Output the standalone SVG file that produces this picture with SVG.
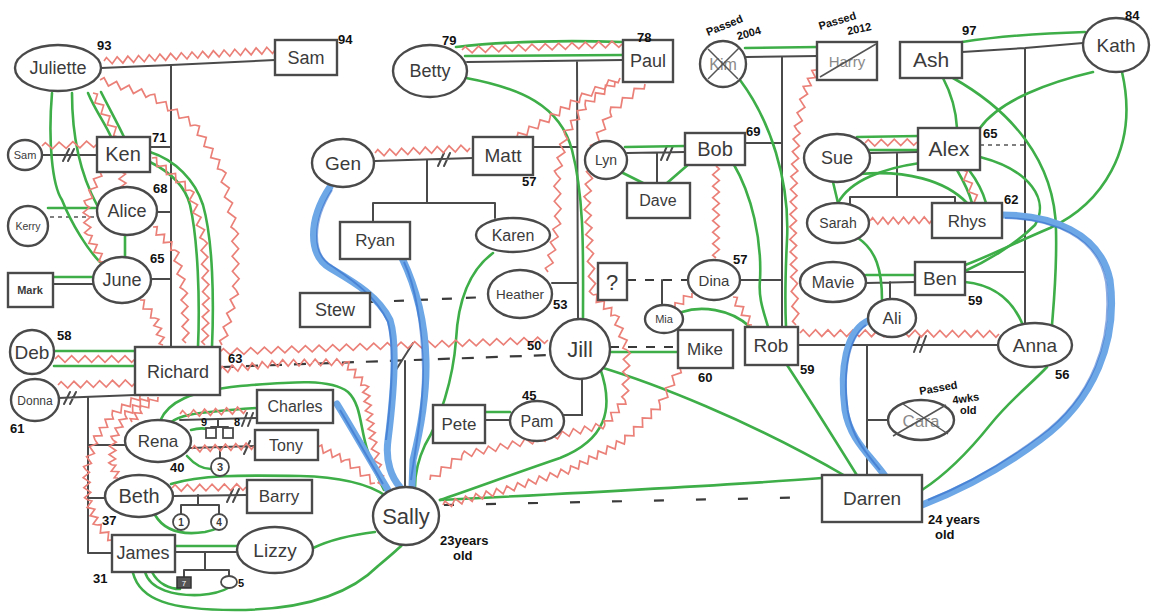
<svg xmlns="http://www.w3.org/2000/svg" width="1151" height="614" viewBox="0 0 1151 614">
<style>
 .k{fill:none;stroke:#4a4a4a;stroke-width:2;stroke-linecap:round}
 .kd{fill:none;stroke:#3a3a3a;stroke-width:2.2;stroke-dasharray:12 12}
 .kf{fill:none;stroke:#555;stroke-width:1.4;stroke-dasharray:4 4}
 .g{fill:none;stroke:#3dae48;stroke-width:2.6;stroke-linecap:round}
 .zz{fill:none;stroke:#ea8078;stroke-width:1.7;stroke-linejoin:miter}
 .b{fill:none;stroke:#6da7e6;stroke-width:7;stroke-linecap:round}
 .bi{fill:none;stroke:#2c66c8;stroke-width:2;opacity:.55}
 .n{fill:#fff;stroke:#4a4a4a;stroke-width:2.4}
 .t{font-family:"Liberation Sans",Arial,sans-serif;fill:#3b3b3b;text-anchor:middle}
 .d{fill:#8a8a8a}
 .a{font-family:"Liberation Sans",Arial,sans-serif;font-weight:bold;font-size:13px;fill:#111}
 .s{font-family:"Liberation Sans",Arial,sans-serif;font-weight:bold;font-size:11px;fill:#111}
 .x{stroke:#555;stroke-width:1.5;fill:none}
</style>
<defs>
 <!-- zigzag strokes of fixed length, laid along a chunk by matrix transforms -->
 <path id="z20" vector-effect="non-scaling-stroke" d="M0,0l2.5,-3.3l5,6.6l5,-6.6l5,6.6l2.5,-3.3"/>
 <path id="z30" vector-effect="non-scaling-stroke" d="M0,0l2.5,-3.3l5,6.6l5,-6.6l5,6.6l5,-6.6l5,6.6l2.5,-3.3"/>
 <path id="z40" vector-effect="non-scaling-stroke" d="M0,0l3.333,-3.3l6.667,6.6l6.667,-6.6l6.667,6.6l6.667,-6.6l6.667,6.6l3.333,-3.3"/>
 <path id="z50" vector-effect="non-scaling-stroke" d="M0,0l3.125,-3.3l6.25,6.6l6.25,-6.6l6.25,6.6l6.25,-6.6l6.25,6.6l6.25,-6.6l6.25,6.6l3.125,-3.3"/>
 <path id="z100" vector-effect="non-scaling-stroke" d="M0,0l3.125,-3.3l6.25,6.6l6.25,-6.6l6.25,6.6l6.25,-6.6l6.25,6.6l6.25,-6.6l6.25,6.6l6.25,-6.6l6.25,6.6l6.25,-6.6l6.25,6.6l6.25,-6.6l6.25,6.6l6.25,-6.6l6.25,6.6l3.125,-3.3"/>
 <g id="z60"><use href="#z30"/><use href="#z30" x="30"/></g>
 <g id="z80"><use href="#z40"/><use href="#z40" x="40"/></g>
 <g id="z150"><use href="#z100"/><use href="#z50" x="100"/></g>
 <g id="z200"><use href="#z100"/><use href="#z100" x="100"/></g>
 <g id="z300"><use href="#z100"/><use href="#z100" x="100"/><use href="#z100" x="200"/></g>
</defs>
<rect width="1151" height="614" fill="#fff"/>

<g id="connectors">
 <!-- family lines -->
 <g id="family-lines">
  <path class="k" d="M101,68 L171,65 L275,60"/>
  <path class="k" d="M171,65 L171,347"/>
  <path class="k" d="M150,147 L171,147 M157,212 L171,212 M151,279 L171,279"/>
  <path class="k" d="M41,155 L97,155 M63,161 L69,149 M68,161 L74,149"/>
  <path class="kf" d="M50,217 L97,217"/>
  <path class="k" d="M53,284 L93,284"/>
  <path class="k" d="M58,398 L135,395 M64,404 L70,392 M70,404 L76,392"/>
  <path class="k" d="M88,397 L88,553 M88,445 L125,445 M88,498 L105,498 M88,553 L112,553"/>
  <path class="k" d="M180,420 L257,418 M242,426 L247,413 M248,426 L253,413"/>
  <path class="k" d="M218,419 L218,427 M211,427 L228,427"/>
  <path class="k" d="M190,448 L255,446 M244,454 L250,441 M220,448 L220,458"/>
  <path class="k" d="M173,496 L247,495 M227,502 L233,489 M233,502 L239,489"/>
  <path class="k" d="M198,495 L198,505 M181,505 L219,505 M181,505 L181,514 M219,505 L219,514"/>
  <path class="k" d="M175,552 L237,552 M205,552 L205,570 M184,570 L229,570 M184,570 L184,577 M229,570 L229,576"/>
  <path class="kd" d="M222,367 L550,355"/>
  <path class="k" d="M405,361 L405,487 M394,373 L413,343"/>
  <path class="kd" style="stroke-dasharray:10 14" d="M370,302 L488,297"/>
  <path class="k" d="M375,161 L473,158 M438,166 L444,153 M444,166 L450,153"/>
  <path class="k" d="M427,160 L427,203 M373,203 L495,203 M373,203 L373,222 M495,203 L495,218"/>
  <path class="k" d="M467,62 L623,60 M577,61 L578,319 M533,147 L577,147 M552,283 L577,283"/>
  <path class="kd" style="stroke-dasharray:9 9" d="M627,280 L688,280"/>
  <path class="k" d="M662,280 L662,305"/>
  <path class="kd" style="stroke-dasharray:9 9" d="M610,347 L678,347"/>
  <path class="k" d="M582,379 L582,415 L563,415 M485,420 L510,420"/>
  <path class="k" d="M746,57 L818,56 M782,57 L782,327 M745,143 L782,143 M740,280 L782,280"/>
  <path class="k" d="M627,153 L685,152 M661,160 L667,146 M667,160 L673,146 M657,153 L657,183"/>
  <path class="k" d="M798,345 L998,345 M914,352 L920,336 M920,352 L926,336"/>
  <path class="k" d="M867,345 L867,475 M867,420 L888,420"/>
  <path class="k" d="M962,52 L1025,48 L1083,43 M1025,48 L1025,325 M965,272 L1025,272"/>
  <path class="kf" d="M980,145 L1025,145"/>
  <path class="k" d="M870,153 L918,152 M897,153 L897,197 M850,197 L955,197 M850,197 L850,204 M955,197 L955,204"/>
  <path class="k" d="M866,283 L915,282 M890,282 L890,300"/>
  <path class="kd" style="stroke-dasharray:10 32" d="M444,505 L822,497"/>
 </g>

 <!-- close bonds -->
 <g id="close-bonds">
  <path class="g" d="M52,93 C48,140 52,185 62,200 C72,225 88,250 100,262"/>
  <path class="g" d="M72,93 C72,130 78,170 97,205"/>
  <path class="g" d="M88,93 C95,110 106,125 111,137"/>
  <path class="g" d="M101,92 C109,108 117,122 124,137"/>
  <path class="g" d="M150,152 C175,160 195,180 203,205 C213,240 214,300 212,347"/>
  <path class="g" d="M150,162 C170,172 185,185 190,205 C198,240 200,300 198,347"/>
  <path class="g" d="M48,208 L97,208 M125,235 L125,257 M53,277 L94,277"/>
  <path class="g" d="M54,351 L135,351 M54,366 L135,366"/>
  <path class="g" d="M160,421 C168,402 190,391 240,386 C290,382 330,378 348,392 C362,405 360,430 368,452 C374,470 380,482 384,490"/>
  <path class="g" d="M170,423 C178,416 186,413 257,408"/>
  <path class="g" d="M191,430 C198,428 206,428 212,430"/>
  <path class="g" d="M187,456 C195,465 203,469 211,469"/>
  <path class="g" d="M171,484 C200,475 240,475 300,476 C345,477 370,485 386,496"/>
  <path class="g" d="M155,515 C165,532 185,535 205,532 C215,530 222,527 226,522"/>
  <path class="g" d="M175,546 L237,546"/>
  <path class="g" d="M145,572 C150,590 175,596 200,595 C215,594 225,590 230,587"/>
  <path class="g" d="M152,572 C158,584 170,589 180,589"/>
  <path class="g" d="M133,573 C140,600 170,610 235,610 C310,610 352,592 378,566 C390,556 397,550 402,545"/>
  <path class="g" d="M313,548 C330,540 350,535 375,532"/>
  <path class="g" d="M456,47 C500,42 560,40 623,42 M465,56 L623,55"/>
  <path class="g" d="M466,78 C520,88 560,105 572,150 C585,200 583,260 583,318"/>
  <path class="g" d="M493,253 C470,270 458,300 456,340 C453,380 440,420 425,445 C418,460 415,475 415,487"/>
  <path class="g" d="M600,368 C615,410 605,440 560,458 C510,475 470,490 440,500"/>
  <path class="g" d="M608,352 L678,352"/>
  <path class="g" d="M600,367 C650,382 750,420 847,477"/>
  <path class="g" d="M440,500 C600,492 720,486 822,478"/>
  <path class="g" d="M483,412 L510,412"/>
  <path class="g" d="M745,48 L818,47"/>
  <path class="g" d="M740,80 C770,120 790,180 787,240 C785,280 785,305 786,327"/>
  <path class="g" d="M733,163 C752,195 762,240 760,280 C758,300 765,315 768,327"/>
  <path class="g" d="M625,147 L685,146 M619,171 L643,183 M690,163 L667,183"/>
  <path class="g" d="M682,312 C700,306 730,308 750,327"/>
  <path class="g" d="M787,365 C810,400 835,440 858,477"/>
  <path class="g" d="M962,42 C1000,36 1050,33 1085,32"/>
  <path class="g" d="M943,78 C952,95 956,110 957,128"/>
  <path class="g" d="M953,78 C1010,110 1055,160 1056,230 C1057,270 1054,300 1052,325"/>
  <path class="g" d="M1093,72 C1050,82 1000,100 980,128"/>
  <path class="g" d="M1122,72 C1140,150 1100,205 1050,228 C1010,245 985,258 965,265"/>
  <path class="g" d="M980,157 C1030,170 1050,200 1035,225 C1015,245 985,262 965,271"/>
  <path class="g" d="M965,282 C995,285 1012,300 1022,323"/>
  <path class="g" d="M1047,367 C1030,385 1010,400 990,425 C970,450 945,475 922,490"/>
  <path class="g" d="M857,137 L918,136 M868,150 L918,150"/>
  <path class="g" d="M833,182 L838,203"/>
  <path class="g" d="M838,203 C850,180 885,168 920,163"/>
  <path class="g" d="M860,174 C905,170 945,180 967,203"/>
  <path class="g" d="M957,170 C964,182 969,192 972,203 M969,170 C978,182 983,192 986,203"/>
  <path class="g" d="M858,238 C876,250 882,270 882,300"/>
  <path class="g" d="M866,275 L915,275"/>
 </g>

 <!-- conflict -->
 <g id="conflict" class="zz">
  <use href="#z200" transform="matrix(.855,-.055,.064,.998,104,61)"/>
  <use href="#z50" transform="matrix(1,.3,-.287,.958,100,80)"/>
  <use href="#z50" transform="matrix(.9,.6,-.555,.832,150,95)"/>
  <use href="#z50" transform="matrix(.54,.9,-.857,.514,195,125)"/>
  <use href="#z50" transform="matrix(.26,1.2,-.977,.212,222,170)"/>
  <use href="#z50" transform="matrix(.02,1.2,-1,.017,235,230)"/>
  <use href="#z50" transform="matrix(-.28,1.1,-.968,-.246,236,290)"/>
  <use href="#z50" transform="matrix(.5,.88,-.87,.494,93,93)"/>
  <use href="#z50" transform="matrix(1.1,-.04,.036,1,42,146)"/>
  <use href="#z20" transform="matrix(.05,.9,-1,.056,122,172)"/>
  <use href="#z30" transform="matrix(-.467,1.1,-.922,-.391,100,172)"/>
  <use href="#z30" transform="matrix(.067,1,-.997,.066,86,205)"/>
  <use href="#z30" transform="matrix(.5,.9,-.874,.485,88,235)"/>
  <use href="#z30" transform="matrix(.733,.767,-.723,.692,153,227)"/>
  <use href="#z40" transform="matrix(.225,1,-.976,.22,175,250)"/>
  <use href="#z50" transform="matrix(.04,1.06,-1,.038,184,290)"/>
  <use href="#z50" transform="matrix(.76,.64,-.644,.765,152,158)"/>
  <use href="#z50" transform="matrix(.28,1,-.963,.27,190,190)"/>
  <use href="#z50" transform="matrix(.04,1.1,-1,.036,204,240)"/>
  <use href="#z50" transform="matrix(-.02,1,-1,-.02,206,295)"/>
  <use href="#z20" transform="matrix(.75,.9,-.769,.641,140,300)"/>
  <use href="#z30" transform="matrix(.267,.9,-.957,.284,155,318)"/>
  <use href="#z80" transform="translate(55,359)"/>
  <use href="#z80" transform="matrix(.963,-.025,.026,1,58,385)"/>
  <use href="#z300" transform="matrix(1.093,-.04,0,1,220,352)"/>
  <use href="#z60" transform="matrix(1,-.117,.116,.993,220,370)"/>
  <use href="#z60" transform="matrix(1.083,-.017,.015,1,280,363)"/>
  <use href="#z30" transform="matrix(.667,.767,-.754,.656,345,362)"/>
  <use href="#z60" transform="matrix(.133,.917,-.989,.144,365,385)"/>
  <use href="#z50" transform="matrix(.18,.9,-.98,.196,373,440)"/>
  <use href="#z30" transform="matrix(.9,.433,-.433,.9,318,447)"/>
  <use href="#z40" transform="matrix(.75,.575,-.608,.794,345,460)"/>
  <use href="#z30" transform="matrix(-.933,.633,-.562,-.828,140,396)"/>
  <use href="#z30" transform="matrix(-.567,.833,-.828,-.563,112,415)"/>
  <use href="#z30" transform="matrix(-.3,1,-.958,-.288,95,440)"/>
  <use href="#z30" transform="matrix(.067,1,-1,.067,86,470)"/>
  <use href="#z30" transform="matrix(.3,.833,-.94,.338,88,500)"/>
  <use href="#z20" transform="matrix(.75,.75,-.707,.707,97,525)"/>
  <use href="#z30" transform="matrix(-.767,.6,-.616,-.788,148,397)"/>
  <use href="#z30" transform="matrix(-.4,.833,-.903,-.433,125,415)"/>
  <use href="#z30" transform="matrix(-.033,.833,-1,-.04,113,440)"/>
  <use href="#z20" transform="matrix(.3,.65,-.909,.42,112,465)"/>
  <use href="#z20" transform="matrix(-.9,.65,-.586,-.811,158,397)"/>
  <use href="#z20" transform="matrix(-.4,.6,-.833,-.556,140,410)"/>
  <use href="#z60" transform="matrix(1.1,-.067,.06,1,180,414)"/>
  <use href="#z60" transform="matrix(1.033,-.05,.048,1,192,449)"/>
  <use href="#z80" transform="matrix(.925,-.0125,.0135,1,172,488)"/>
  <use href="#z150" transform="matrix(1.067,-.04,.037,1,462,50)"/>
  <use href="#z100" transform="matrix(.95,-.05,.053,1,375,153)"/>
  <use href="#z40" transform="matrix(.825,-.475,.499,.866,517,137)"/>
  <use href="#z40" transform="matrix(.75,-.5,.554,.831,550,118)"/>
  <use href="#z40" transform="matrix(1,-.5,.447,.894,580,98)"/>
  <use href="#z40" transform="matrix(-.75,.575,-.608,-.794,615,82)"/>
  <use href="#z40" transform="matrix(-.5,.75,-.832,-.554,585,105)"/>
  <use href="#z40" transform="matrix(-.2,1,-.981,-.196,565,135)"/>
  <use href="#z40" transform="matrix(.025,1.125,-1,.022,557,175)"/>
  <use href="#z50" transform="matrix(-.2,1.04,-.982,-.189,558,220)"/>
  <use href="#z40" transform="matrix(-.875,.7,-.625,-.781,645,84)"/>
  <use href="#z40" transform="matrix(-.45,.95,-.905,-.429,610,112)"/>
  <use href="#z50" transform="matrix(-.1,1,-.996,-.1,592,150)"/>
  <use href="#z50" transform="matrix(.06,1,-1,.06,587,200)"/>
  <use href="#z40" transform="matrix(.075,1.125,-1,.067,590,250)"/>
  <use href="#z30" transform="matrix(.733,.667,-.673,.741,593,295)"/>
  <use href="#z40" transform="matrix(.3,.875,-.946,.324,615,315)"/>
  <use href="#z50" transform="matrix(-.04,1,-1,-.04,627,350)"/>
  <use href="#z30" transform="matrix(-.667,.833,-.781,-.625,625,400)"/>
  <use href="#z50" transform="matrix(-.9,.2,-.217,-.976,605,425)"/>
  <use href="#z50" transform="matrix(-1,.2,-.196,-.98,560,435)"/>
  <use href="#z50" transform="matrix(-.96,.2,-.204,-.98,510,445)"/>
  <use href="#z40" transform="matrix(-.8,.625,-.616,-.788,462,455)"/>
  <use href="#z40" transform="matrix(-.5,.925,-.879,-.475,680,368)"/>
  <use href="#z50" transform="matrix(-.7,.7,-.707,-.707,660,405)"/>
  <use href="#z60" transform="matrix(-.917,.5,-.479,-.879,625,440)"/>
  <use href="#z60" transform="matrix(-1.083,.333,-.294,-.956,570,470)"/>
  <use href="#z60" transform="matrix(-1.033,.25,-.235,-.972,505,490)"/>
  <use href="#z100" transform="matrix(0,.92,-1,0,716,166)"/>
  <use href="#z30" transform="matrix(.633,.933,-.828,.562,733,297)"/>
  <use href="#z20" transform="matrix(-.85,.7,-.636,-.773,692,293)"/>
  <use href="#z30" transform="matrix(-.433,.8,-.879,-.476,818,66)"/>
  <use href="#z40" transform="matrix(-.2,1,-.981,-.196,805,90)"/>
  <use href="#z50" transform="matrix(-.06,1,-1,-.06,797,130)"/>
  <use href="#z50" transform="matrix(-.02,1,-1,-.02,794,180)"/>
  <use href="#z50" transform="matrix(.02,1,-1,.02,793,230)"/>
  <use href="#z40" transform="matrix(.05,1.125,-1,.044,794,280)"/>
  <use href="#z200" transform="matrix(.995,.005,0,1,800,333)"/>
  <use href="#z50" transform="matrix(1.04,-.02,0,1,865,143)"/>
  <use href="#z60" transform="matrix(1.033,-.017,0,1,870,221)"/>
  <use href="#z40" transform="matrix(.375,.875,-.921,.395,963,170)"/>
 </g>

 <!-- cut-offs -->
 <g id="cutoffs">
  <path class="b" d="M330,187 C308,220 308,255 330,268 C350,280 378,295 390,320 C398,345 393,400 388,440 C385,462 392,478 400,487"/>
  <path class="b" d="M402,258 C415,285 425,320 426,360 C427,400 418,440 413,460 L412,487"/>
  <path class="b" d="M337,404 C350,425 370,460 388,490"/>
  <path class="b" d="M870,320 C845,330 840,370 845,410 C850,440 870,455 885,476"/>
  <path class="b" d="M1002,215 C1050,215 1100,232 1110,280 C1118,340 1095,400 1040,440 C1000,470 955,492 922,505"/>
  <path class="bi" d="M332,190 C312,222 312,255 332,266 C352,280 376,296 388,322 C395,350 391,400 386,440"/>
  <path class="bi" d="M404,262 C417,290 422,330 423,370 C423,410 416,445 411,480"/>
  <path class="bi" d="M340,410 C352,430 368,458 383,484"/>
  <path class="bi" d="M866,325 C846,340 843,380 848,412 C853,440 868,455 880,470"/>
  <path class="bi" d="M1005,218 C1052,219 1098,236 1106,282 C1113,340 1092,398 1040,436 C1000,466 958,488 928,500"/>
 </g>
</g>

<!-- left family -->
<g id="juliette"><ellipse class="n" cx="58" cy="68" rx="43" ry="23"/><text class="t" x="58" y="74" font-size="18">Juliette</text><text class="a" x="97" y="50">93</text></g>
<g id="sam"><rect class="n" x="275" y="40" width="62" height="35"/><text class="t" x="306" y="64" font-size="18">Sam</text><text class="a" x="338" y="44">94</text></g>
<g id="sam-small"><ellipse class="n" cx="25" cy="155" rx="17" ry="15"/><text class="t" x="25" y="159" font-size="11">Sam</text></g>
<g id="ken"><rect class="n" x="97" y="137" width="53" height="35"/><text class="t" x="123" y="161" font-size="20">Ken</text><text class="a" x="152" y="142">71</text></g>
<g id="alice"><ellipse class="n" cx="127" cy="211" rx="30" ry="24"/><text class="t" x="127" y="217" font-size="18">Alice</text><text class="a" x="153" y="193">68</text></g>
<g id="kerry"><ellipse class="n" cx="28" cy="226" rx="20" ry="20"/><text class="t" x="28" y="230" font-size="10.5">Kerry</text></g>
<g id="june"><ellipse class="n" cx="122" cy="280" rx="29" ry="23"/><text class="t" x="122" y="286" font-size="18">June</text><text class="a" x="150" y="263">65</text></g>
<g id="mark"><rect class="n" x="8" y="273" width="45" height="34"/><text class="t" x="30" y="294" font-size="11" font-weight="bold">Mark</text></g>
<g id="deb"><ellipse class="n" cx="32" cy="352" rx="22" ry="22"/><text class="t" x="32" y="359" font-size="19">Deb</text><text class="a" x="57" y="340">58</text></g>
<g id="donna"><ellipse class="n" cx="35" cy="400" rx="24" ry="21"/><text class="t" x="35" y="405" font-size="12">Donna</text><text class="a" x="10" y="433">61</text></g>
<g id="richard"><rect class="n" x="135" y="347" width="85" height="48"/><text class="t" x="178" y="378" font-size="18">Richard</text><text class="a" x="228" y="363">63</text></g>
<g id="charles"><rect class="n" x="257" y="390" width="76" height="33"/><text class="t" x="295" y="412" font-size="16">Charles</text></g>
<g id="tony"><rect class="n" x="255" y="430" width="63" height="30"/><text class="t" x="286" y="451" font-size="16">Tony</text></g>
<g id="rena"><ellipse class="n" cx="158" cy="441" rx="33" ry="21"/><text class="t" x="158" y="447" font-size="17">Rena</text><text class="a" x="170" y="472">40</text></g>
<g id="rena-kids"><rect class="n" x="206" y="428" width="10" height="10" style="stroke-width:1.8"/><rect class="n" x="223" y="428" width="10" height="10" style="stroke-width:1.8"/><text class="s" x="201" y="426" font-size="8">9</text><text class="s" x="234" y="426" font-size="8">8</text><circle class="n" cx="220" cy="467" r="9" style="stroke-width:1.8"/><text class="t" x="220" y="471" font-size="11" font-weight="bold">3</text></g>
<g id="beth"><ellipse class="n" cx="139" cy="496" rx="34" ry="21"/><text class="t" x="139" y="503" font-size="20">Beth</text><text class="a" x="102" y="525">37</text></g>
<g id="barry"><rect class="n" x="247" y="480" width="65" height="33"/><text class="t" x="279" y="502" font-size="17">Barry</text></g>
<g id="beth-kids"><circle class="n" cx="181" cy="522" r="8" style="stroke-width:1.8"/><text class="t" x="181" y="526" font-size="10" font-weight="bold">1</text><circle class="n" cx="219" cy="522" r="8" style="stroke-width:1.8"/><text class="t" x="219" y="526" font-size="10" font-weight="bold">4</text></g>
<g id="james"><rect class="n" x="112" y="535" width="63" height="37"/><text class="t" x="143" y="559" font-size="18">James</text><text class="a" x="93" y="583">31</text></g>
<g id="lizzy"><ellipse class="n" cx="275" cy="550" rx="38" ry="23"/><text class="t" x="275" y="557" font-size="19">Lizzy</text></g>
<g id="james-kids"><rect x="177" y="577" width="14" height="11" fill="#555" stroke="#333" stroke-width="1.5"/><text x="184" y="586" font-family="Liberation Sans,Arial,sans-serif" font-size="8" fill="#fff" text-anchor="middle">7</text><ellipse class="n" cx="229" cy="582" rx="8" ry="6" style="stroke-width:1.8"/><text class="s" x="238" y="587">5</text></g>
<g id="sally"><ellipse class="n" cx="406" cy="516" rx="33" ry="29"/><text class="t" x="406" y="524" font-size="22">Sally</text><text class="a" x="440" y="545" font-size="12">23years</text><text class="a" x="453" y="560" font-size="12">old</text></g>

<!-- middle family -->
<g id="betty"><ellipse class="n" cx="430" cy="71" rx="37" ry="26"/><text class="t" x="430" y="77" font-size="18">Betty</text><text class="a" x="442" y="45">79</text></g>
<g id="paul"><rect class="n" x="623" y="40" width="50" height="42"/><text class="t" x="648" y="67" font-size="18">Paul</text><text class="a" x="637" y="42">78</text></g>
<g id="gen"><ellipse class="n" cx="343" cy="163" rx="31" ry="24"/><text class="t" x="343" y="170" font-size="19">Gen</text></g>
<g id="matt"><rect class="n" x="473" y="137" width="60" height="38"/><text class="t" x="503" y="162" font-size="19">Matt</text><text class="a" x="522" y="186">57</text></g>
<g id="ryan"><rect class="n" x="340" y="222" width="70" height="37"/><text class="t" x="375" y="246" font-size="17">Ryan</text></g>
<g id="karen"><ellipse class="n" cx="513" cy="235" rx="37" ry="17"/><text class="t" x="513" y="241" font-size="16">Karen</text></g>
<g id="stew"><rect class="n" x="300" y="293" width="70" height="34"/><text class="t" x="335" y="316" font-size="18">Stew</text></g>
<g id="heather"><ellipse class="n" cx="520" cy="294" rx="32" ry="24"/><text class="t" x="520" y="299" font-size="13.5">Heather</text><text class="a" x="553" y="309">53</text></g>
<g id="jill"><ellipse class="n" cx="580" cy="349" rx="30" ry="30"/><text class="t" x="580" y="357" font-size="22">Jill</text><text class="a" x="527" y="350">50</text></g>
<g id="pete"><rect class="n" x="433" y="405" width="52" height="38"/><text class="t" x="459" y="430" font-size="17">Pete</text></g>
<g id="pam"><ellipse class="n" cx="537" cy="421" rx="27" ry="20"/><text class="t" x="537" y="427" font-size="16">Pam</text><text class="a" x="522" y="400">45</text></g>

<!-- right-middle family -->
<g id="kim"><ellipse class="n" cx="723" cy="64" rx="23" ry="23"/><text class="t d" x="723" y="70" font-size="16">Kim</text><path class="x" d="M708,49 L738,79 M739,48 L708,79"/><text class="s" transform="translate(708,36) rotate(-22)">Passed</text><text class="s" transform="translate(738,40) rotate(-15)">2004</text></g>
<g id="harry"><rect class="n" x="817" y="42" width="60" height="38"/><text class="t d" x="847" y="67" font-size="15">Harry</text><path class="x" d="M820,77 L876,44"/><text class="s" transform="translate(820,30) rotate(-17)">Passed</text><text class="s" transform="translate(848,35) rotate(-12)">2012</text></g>
<g id="lyn"><ellipse class="n" cx="606" cy="160" rx="21" ry="19"/><text class="t" x="606" y="165" font-size="14">Lyn</text></g>
<g id="bob"><rect class="n" x="685" y="133" width="60" height="32"/><text class="t" x="715" y="156" font-size="20">Bob</text><text class="a" x="746" y="136">69</text></g>
<g id="dave"><rect class="n" x="627" y="183" width="63" height="35"/><text class="t" x="658" y="206" font-size="16">Dave</text></g>
<g id="unknown"><rect class="n" x="598" y="263" width="29" height="37"/><text class="t" x="612" y="290" font-size="22">?</text></g>
<g id="dina"><ellipse class="n" cx="714" cy="280" rx="26" ry="20"/><text class="t" x="714" y="286" font-size="15">Dina</text><text class="a" x="733" y="264">57</text></g>
<g id="mia"><ellipse class="n" cx="664" cy="319" rx="19" ry="14"/><text class="t" x="664" y="323" font-size="11">Mia</text></g>
<g id="mike"><rect class="n" x="678" y="330" width="55" height="38"/><text class="t" x="705" y="355" font-size="17">Mike</text><text class="a" x="698" y="382">60</text></g>
<g id="rob"><rect class="n" x="745" y="327" width="53" height="38"/><text class="t" x="771" y="352" font-size="19">Rob</text><text class="a" x="800" y="374">59</text></g>

<!-- right family -->
<g id="ash"><rect class="n" x="900" y="42" width="62" height="36"/><text class="t" x="931" y="67" font-size="21">Ash</text><text class="a" x="962" y="35">97</text></g>
<g id="kath"><ellipse class="n" cx="1116" cy="45" rx="33" ry="27"/><text class="t" x="1116" y="52" font-size="19">Kath</text><text class="a" x="1125" y="20">84</text></g>
<g id="sue"><ellipse class="n" cx="837" cy="158" rx="33" ry="24"/><text class="t" x="837" y="164" font-size="18">Sue</text></g>
<g id="alex"><rect class="n" x="918" y="128" width="62" height="42"/><text class="t" x="949" y="156" font-size="21">Alex</text><text class="a" x="983" y="138">65</text></g>
<g id="sarah"><ellipse class="n" cx="838" cy="223" rx="31" ry="20"/><text class="t" x="838" y="228" font-size="14">Sarah</text></g>
<g id="rhys"><rect class="n" x="932" y="203" width="70" height="35"/><text class="t" x="967" y="227" font-size="17">Rhys</text><text class="a" x="1004" y="204" font-size="11">62</text></g>
<g id="mavie"><ellipse class="n" cx="833" cy="282" rx="33" ry="20"/><text class="t" x="833" y="288" font-size="16">Mavie</text></g>
<g id="ben"><rect class="n" x="915" y="262" width="50" height="33"/><text class="t" x="940" y="285" font-size="19">Ben</text><text class="a" x="968" y="305">59</text></g>
<g id="ali"><ellipse class="n" cx="892" cy="318" rx="24" ry="19"/><text class="t" x="892" y="324" font-size="17">Ali</text></g>
<g id="anna"><ellipse class="n" cx="1035" cy="345" rx="37" ry="22"/><text class="t" x="1035" y="352" font-size="19">Anna</text><text class="a" x="1055" y="379">56</text></g>
<g id="cara"><ellipse class="n" cx="921" cy="420" rx="33" ry="20"/><text class="t d" x="921" y="427" font-size="17">Cara</text><path class="x" d="M893,436 L946,405 M903,404 L948,434"/><text class="s" transform="translate(920,395) rotate(-10)">Passed</text><text class="s" transform="translate(953,404) rotate(-8)">4wks</text><text class="s" x="960" y="414">old</text></g>
<g id="darren"><rect class="n" x="822" y="475" width="100" height="47"/><text class="t" x="872" y="505" font-size="19">Darren</text><text class="a" x="928" y="524">24 years</text><text class="a" x="935" y="539">old</text></g>
</svg>
